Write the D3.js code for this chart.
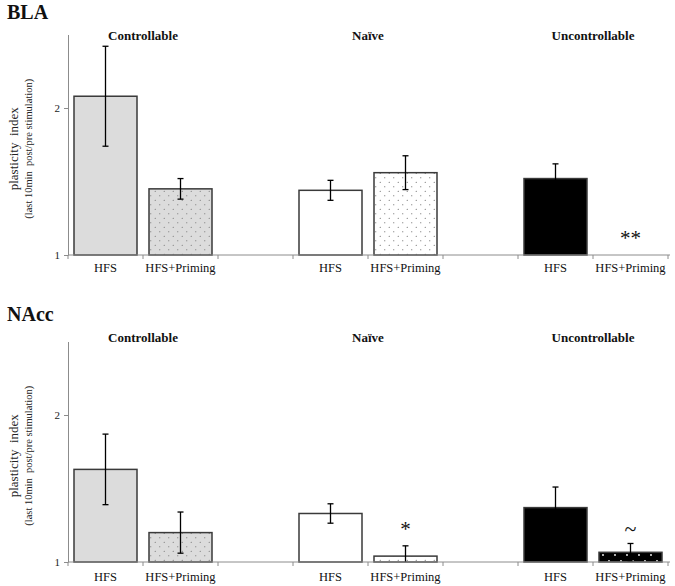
<!DOCTYPE html>
<html>
<head>
<meta charset="utf-8">
<script src="https://cdn.jsdelivr.net/npm/d3@7"></script>
<style>
  body { margin: 0; background: #fff; }
  svg, svg text { font-family: "Liberation Serif", "DejaVu Serif", serif; }
</style>
</head>
<body>
<svg id="chart" width="675" height="586" font-family="Liberation Serif, serif"></svg>
<script>
// ---- data ----
const groups = ["Controllable", "Naïve", "Uncontrollable"];
const conditions = ["HFS", "HFS+Priming"];
const yTicks = [1, 2];
const blaMeans   = [2.08, 1.45, 1.44, 1.56, 1.52, 1.00];
const blaErrors  = [0.34, 0.07, 0.068, 0.115, 0.10, 0.00];
const blaMarks   = ["", "", "", "", "", "**"];
const naccMeans  = [1.63, 1.20, 1.33, 1.04, 1.37, 1.066];
const naccErrors = [0.24, 0.14, 0.066, 0.07, 0.14, 0.06];
const naccMarks  = ["", "", "", "*", "", "~"];
const panelTitles = ["BLA", "NAcc"];
const yLabel1 = "plasticity  index";
const yLabel2 = "(last 10min  post/pre stimulation)";

// ---- build slots ----
const slots = [];
groups.forEach((g, gi) => {
  conditions.forEach(c => slots.push(g + "|" + c));
  if (gi < groups.length - 1) slots.push("gap" + gi);
});

const FONT = "Liberation Serif, serif";
const svg = d3.select("#chart");
const defs = svg.append("defs");

function dotPattern(id, bg, dot, size, r) {
  const p = defs.append("pattern").attr("id", id)
    .attr("patternUnits", "userSpaceOnUse").attr("width", size).attr("height", size);
  p.append("rect").attr("width", size).attr("height", size).attr("fill", bg);
  p.append("circle").attr("cx", size / 4).attr("cy", size / 4).attr("r", r).attr("fill", dot);
  p.append("circle").attr("cx", size * 3 / 4).attr("cy", size * 3 / 4).attr("r", r).attr("fill", dot);
}
dotPattern("dotGray", "#dcdcdc", "#6e6e6e", 9, 0.6);
dotPattern("dotWhite", "#ffffff", "#5e5e5e", 9, 0.6);
dotPattern("dotBlack", "#000000", "#ffffff", 12, 0.9);

const fills = {
  "Controllable|HFS": "#dcdcdc",
  "Controllable|HFS+Priming": "url(#dotGray)",
  "Naïve|HFS": "#ffffff",
  "Naïve|HFS+Priming": "url(#dotWhite)",
  "Uncontrollable|HFS": "#000000",
  "Uncontrollable|HFS+Priming": "url(#dotBlack)"
};

const x = d3.scaleBand().domain(slots).range([68, 668]).paddingInner(0.16).paddingOuter(0.08);
const step = x.step();

function drawPanel(cfg) {
  const { base, top, means, errors, marks, title, titleY, groupY, catY } = cfg;
  const y = d3.scaleLinear().domain([1, 2.5]).range([base, top]);
  const g = svg.append("g").attr("font-family", FONT);

  // panel title
  g.append("text").attr("x", 7).attr("y", titleY).attr("font-size", 20)
    .attr("font-weight", "bold").attr("fill", "#111").text(title);

  // group titles
  groups.forEach(gr => {
    const cx = x(gr + "|HFS+Priming") - step * x.paddingInner() / 2;
    g.append("text").attr("x", cx).attr("y", groupY).attr("text-anchor", "middle")
      .attr("font-size", 13).attr("font-weight", "bold").attr("fill", "#111").text(gr);
  });

  // y axis
  const ya = g.append("g").attr("transform", "translate(68,0)")
    .call(d3.axisLeft(y).tickValues(yTicks).tickFormat(d3.format("d")).tickSize(4).tickSizeOuter(0));
  ya.attr("font-family", FONT);
  ya.select(".domain").attr("stroke", "#8c8c8c");
  ya.selectAll(".tick line").attr("stroke", "#8c8c8c");
  ya.selectAll(".tick text").attr("font-size", 11).attr("fill", "#222").attr("x", -8);

  // y labels
  const mid = (base + top) / 2 + 4;
  g.append("text").attr("transform", `translate(18,${mid}) rotate(-90)`)
    .attr("text-anchor", "middle").attr("font-size", 13).attr("fill", "#222")
    .style("white-space", "pre").text(yLabel1);
  g.append("text").attr("transform", `translate(32,${mid}) rotate(-90)`)
    .attr("text-anchor", "middle").attr("font-size", 10.5).attr("fill", "#222")
    .style("white-space", "pre").text(yLabel2);

  // bars
  const data = [];
  groups.forEach((gr, gi) => conditions.forEach((c, ci) => {
    const i = gi * 2 + ci;
    data.push({ key: gr + "|" + c, cond: c, mean: means[i], err: errors[i], mark: marks[i] });
  }));

  g.selectAll("rect.bar").data(data.filter(d => y(1) - y(d.mean) > 0.5)).enter()
    .append("rect").attr("class", "bar")
    .attr("x", d => x(d.key)).attr("width", x.bandwidth())
    .attr("y", d => y(d.mean)).attr("height", d => y(1) - y(d.mean))
    .attr("fill", d => fills[d.key]).attr("stroke", "#3a3a3a").attr("stroke-width", 1.5);

  // error bars
  const eb = data.filter(d => d.err > 0);
  const cx = d => x(d.key) + x.bandwidth() / 2;
  g.selectAll("line.err").data(eb).enter().append("line")
    .attr("x1", cx).attr("x2", cx)
    .attr("y1", d => y(d.mean + d.err)).attr("y2", d => y(Math.max(1, d.mean - d.err)))
    .attr("stroke", "#000").attr("stroke-width", 1.3);
  ["+", "-"].forEach(s => {
    g.selectAll("line.cap" + (s === "+" ? "a" : "b")).data(eb.filter(d => s === "+" || d.mean - d.err > 1)).enter().append("line")
      .attr("x1", d => cx(d) - 3).attr("x2", d => cx(d) + 3)
      .attr("y1", d => y(s === "+" ? d.mean + d.err : d.mean - d.err))
      .attr("y2", d => y(s === "+" ? d.mean + d.err : d.mean - d.err))
      .attr("stroke", "#000").attr("stroke-width", 1.3);
  });

  // significance marks
  g.selectAll("text.mark").data(data.filter(d => d.mark)).enter().append("text")
    .attr("x", cx).attr("y", d => y(d.mean + d.err) - (d.mark === "~" ? 7 : 10))
    .attr("text-anchor", "middle").attr("font-size", d => d.mark === "~" ? 22 : 21)
    .attr("fill", "#111").text(d => d.mark);

  // x axis
  g.append("line").attr("x1", 68).attr("x2", 670).attr("y1", base).attr("y2", base)
    .attr("stroke", "#8c8c8c").attr("stroke-width", 1);
  const bounds = d3.range(slots.length + 1).map(i => 68 + i * step);
  g.selectAll("line.xt").data(bounds).enter().append("line")
    .attr("x1", d => d).attr("x2", d => d).attr("y1", base).attr("y2", base + 4)
    .attr("stroke", "#8c8c8c");
  g.selectAll("text.cat").data(data).enter().append("text")
    .attr("x", cx).attr("y", catY).attr("text-anchor", "middle")
    .attr("font-size", 12.5).attr("fill", "#111").text(d => d.cond);
}

drawPanel({ base: 255, top: 34.5, means: blaMeans, errors: blaErrors, marks: blaMarks,
  title: panelTitles[0], titleY: 19, groupY: 40, catY: 272 });
drawPanel({ base: 562, top: 341.5, means: naccMeans, errors: naccErrors, marks: naccMarks,
  title: panelTitles[1], titleY: 321, groupY: 342, catY: 581 });
</script>
</body>
</html>
